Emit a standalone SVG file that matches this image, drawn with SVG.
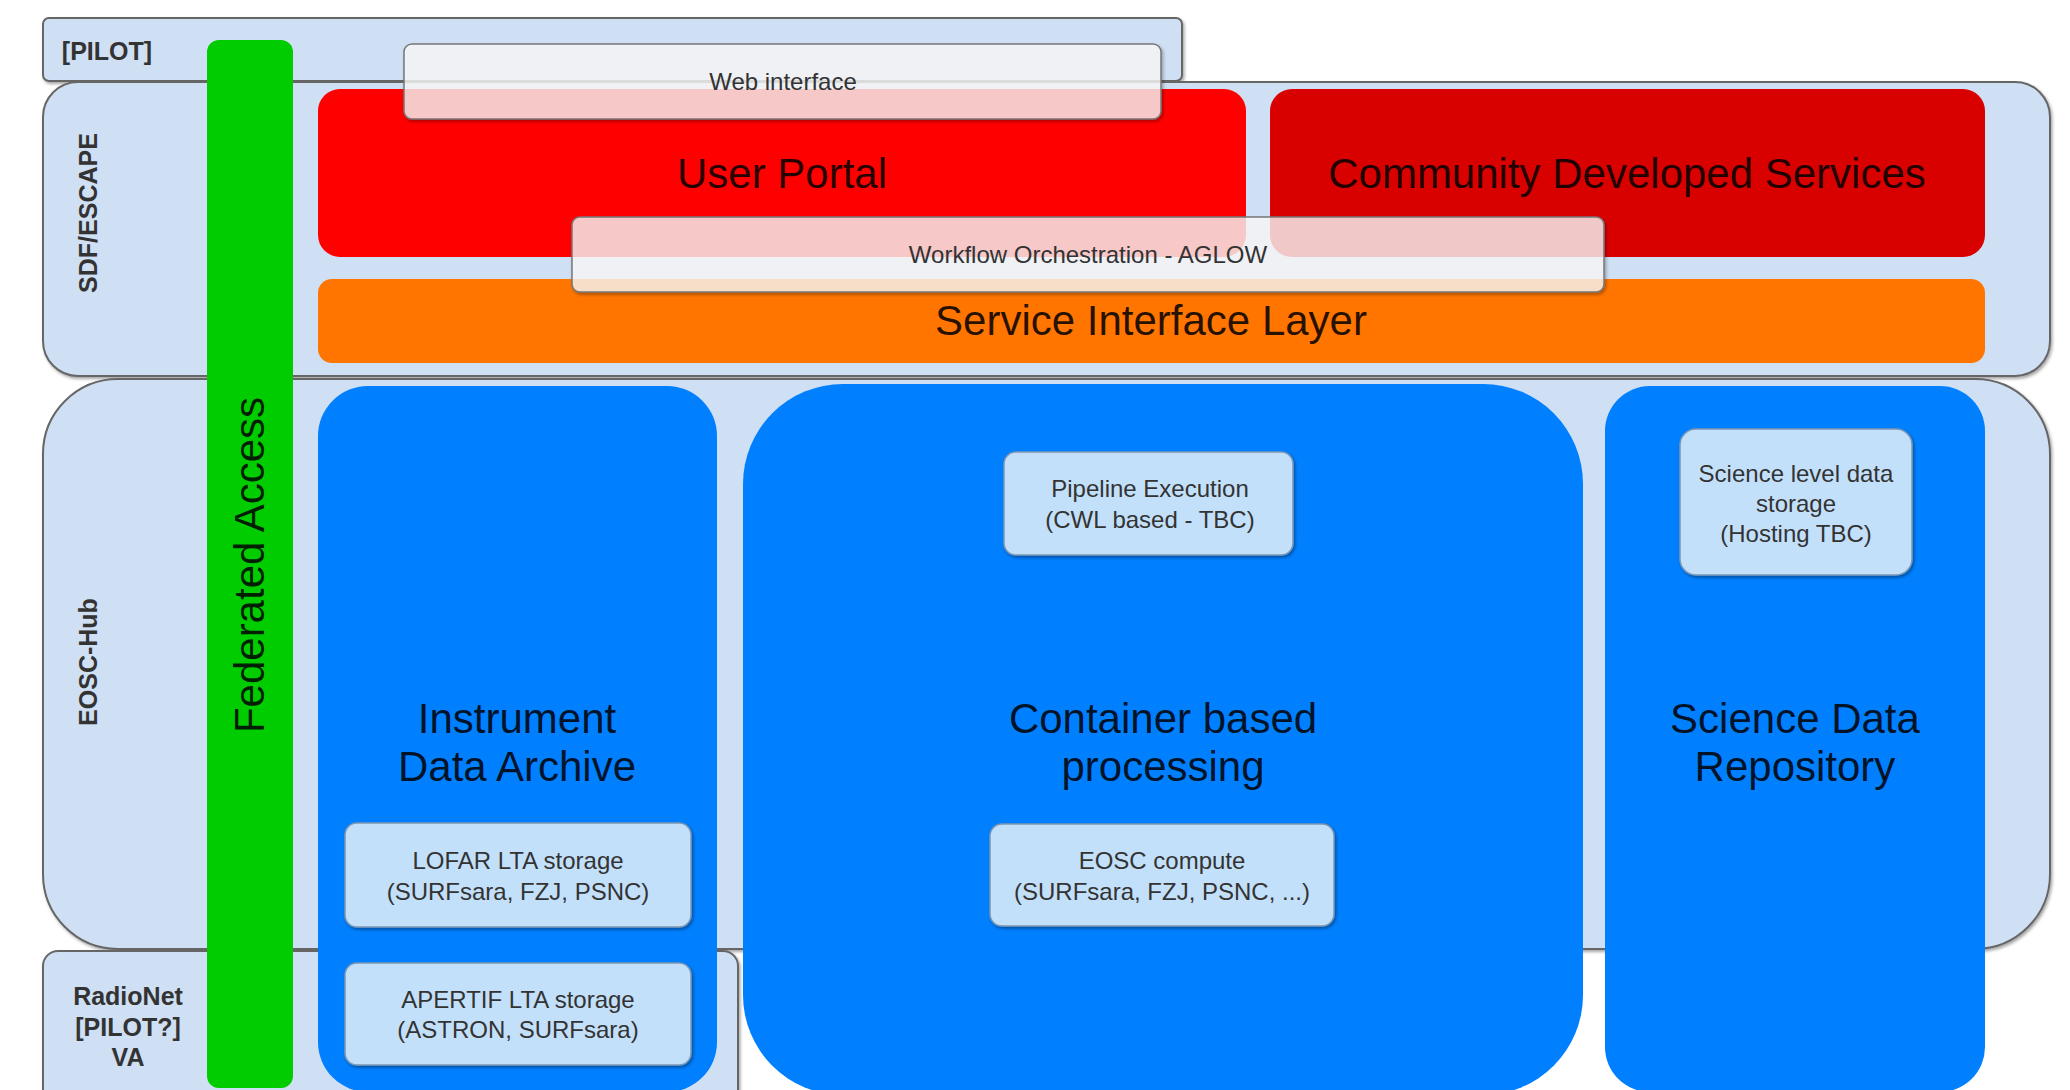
<svg xmlns="http://www.w3.org/2000/svg" width="2070" height="1090" viewBox="0 0 2070 1090">
  <defs>
    <filter id="sh" x="-5%" y="-5%" width="110%" height="115%">
      <feDropShadow dx="1.5" dy="2" stdDeviation="1.5" flood-color="#000" flood-opacity="0.35"/>
    </filter>
    <style>
      .band { fill:#CFDFF4; stroke:#666; stroke-width:2; filter:url(#sh); }
      .lbl { font-family:"Liberation Sans", Arial, sans-serif; font-weight:bold; font-size:25px; fill:#333; text-anchor:middle; }
      .big { font-family:"Liberation Sans", Arial, sans-serif; font-size:42px; fill:#000; fill-opacity:0.85; text-anchor:middle; }
      .sm { font-family:"Liberation Sans", Arial, sans-serif; font-size:24px; fill:#333; text-anchor:middle; }
      .sub { fill:#C3E0FB; stroke:#7d97b2; stroke-width:1.5; filter:url(#sh); }
      .glass { fill:#fff; fill-opacity:0.75; stroke:#777; stroke-width:1.5; filter:url(#sh); }
      .blue { fill:#007FFF; }
    </style>
  </defs>
  <rect width="2070" height="1090" fill="#fff"/>

  <g id="band-pilot">
    <rect class="band" x="43" y="18" width="1139" height="63" rx="6"/>
    <text class="lbl" x="107" y="60">[PILOT]</text>
  </g>
  <g id="band-sdf-escape">
    <rect class="band" x="43" y="82" width="2007" height="294" rx="35"/>
    <text class="lbl" transform="translate(97,213) rotate(-90)">SDF/ESCAPE</text>
  </g>
  <g id="band-eosc-hub">
    <rect class="band" x="43" y="379" width="2007" height="570" rx="75"/>
    <text class="lbl" transform="translate(97,662) rotate(-90)">EOSC-Hub</text>
  </g>
  <g id="band-radionet">
    <rect class="band" x="43" y="951" width="695" height="170" rx="15"/>
    <text class="lbl" x="128" y="1005">RadioNet</text>
    <text class="lbl" x="128" y="1036">[PILOT?]</text>
    <text class="lbl" x="128" y="1066">VA</text>
  </g>

  <g id="federated-access">
    <rect x="207" y="40" width="86" height="1048" rx="12" fill="#00CC00"/>
    <text class="big" transform="translate(264,565) rotate(-90)">Federated Access</text>
  </g>

  <g id="user-portal">
    <rect x="318" y="89" width="928" height="168" rx="22" fill="#FF0000"/>
    <text class="big" x="782" y="188">User Portal</text>
  </g>
  <g id="community-services">
    <rect x="1270" y="89" width="715" height="168" rx="22" fill="#D90000"/>
    <text class="big" x="1627" y="188">Community Developed Services</text>
  </g>
  <g id="service-interface-layer">
    <rect x="318" y="279" width="1667" height="84" rx="14" fill="#FF7500"/>
    <text class="big" x="1151" y="335">Service Interface Layer</text>
  </g>

  <g id="instrument-data-archive">
    <rect class="blue" x="318" y="386" width="399" height="706" rx="50"/>
    <text class="big" x="517" y="733">Instrument</text>
    <text class="big" x="517" y="781">Data Archive</text>
  </g>
  <g id="container-processing">
    <rect class="blue" x="743" y="384" width="840" height="711" rx="100"/>
    <text class="big" x="1163" y="733">Container based</text>
    <text class="big" x="1163" y="781">processing</text>
  </g>
  <g id="science-data-repository">
    <rect class="blue" x="1605" y="386" width="380" height="706" rx="45"/>
    <text class="big" x="1795" y="733">Science Data</text>
    <text class="big" x="1795" y="781">Repository</text>
  </g>

  <g id="lofar-lta">
    <rect class="sub" x="345" y="823" width="346" height="104" rx="12"/>
    <text class="sm" x="518" y="869">LOFAR LTA storage</text>
    <text class="sm" x="518" y="900">(SURFsara, FZJ, PSNC)</text>
  </g>
  <g id="apertif-lta">
    <rect class="sub" x="345" y="963" width="346" height="102" rx="12"/>
    <text class="sm" x="518" y="1008">APERTIF LTA storage</text>
    <text class="sm" x="518" y="1038">(ASTRON, SURFsara)</text>
  </g>
  <g id="pipeline-execution">
    <rect class="sub" x="1004" y="452" width="289" height="103" rx="12"/>
    <text class="sm" x="1150" y="497">Pipeline Execution</text>
    <text class="sm" x="1150" y="528">(CWL based - TBC)</text>
  </g>
  <g id="eosc-compute">
    <rect class="sub" x="990" y="824" width="344" height="102" rx="12"/>
    <text class="sm" x="1162" y="869">EOSC compute</text>
    <text class="sm" x="1162" y="900">(SURFsara, FZJ, PSNC, ...)</text>
  </g>
  <g id="science-level-storage">
    <rect class="sub" x="1680" y="429" width="232" height="146" rx="16"/>
    <text class="sm" x="1796" y="482">Science level data</text>
    <text class="sm" x="1796" y="512">storage</text>
    <text class="sm" x="1796" y="542">(Hosting TBC)</text>
  </g>

  <g id="web-interface">
    <rect class="glass" x="404" y="44" width="757" height="75" rx="8"/>
    <text class="sm" x="783" y="90">Web interface</text>
  </g>
  <g id="workflow-orchestration">
    <rect class="glass" x="572" y="217" width="1032" height="75" rx="8"/>
    <text class="sm" x="1088" y="263">Workflow Orchestration - AGLOW</text>
  </g>

  <g id="connectors"/>
</svg>
